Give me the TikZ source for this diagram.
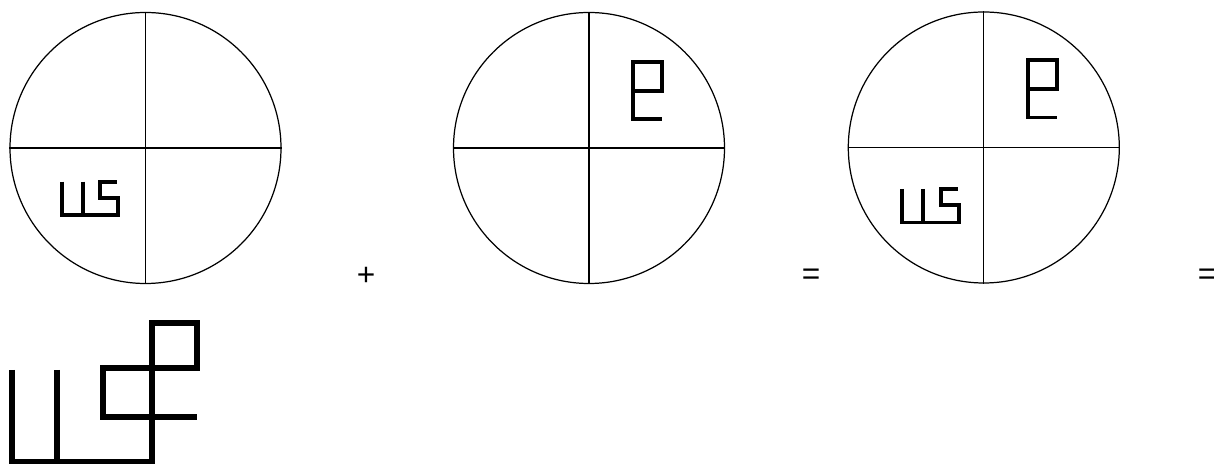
\documentclass[tikz,border=0pt]{standalone}
\usepackage{fontspec}
\setmainfont{Liberation Sans}
\usepackage{tikz}
\usetikzlibrary{positioning}

\tikzset{
  glyphus/.pic={
    \draw (0,0) -- (0,-0.67) -- (1.13,-0.67) -- (1.13,-0.32) -- (0.77,-0.32) -- (0.77,0) -- (1.11,0);
    \draw (0.42,0) -- (0.42,-0.67);
  },
  glypha/.pic={
    \draw (0.57,-1.15) -- (0,-1.15) -- (0,0) -- (0.57,0) -- (0.57,-0.58) -- (0,-0.58);
  }
}

\begin{document}
\begin{tikzpicture}[
    disc/.style={draw, line width=0.7pt, circle, minimum size=5.42cm, inner sep=0pt},
    cross/.style={line width=0.7pt},
    stroke/.style={line width=2.2pt, line join=miter},
    bigstroke/.style={line width=3.4pt, line join=miter},
    op/.style={font=\fontsize{18}{20}\selectfont, inner sep=0pt}]
  \useasboundingbox (0,0) rectangle (24.28,-9.28);

  \node[disc] (c1) at (2.91,-2.96) {};
  \draw[cross] (c1.north) -- (c1.south);
  \draw[cross] (c1.west) -- (c1.east);
  \pic[stroke] at (1.234,-3.634) {glyphus};

  \node[op] (plus) at (7.32,-5.52) {+};

  \node[disc] (c2) at (11.78,-2.96) {};
  \draw[cross] (c2.north) -- (c2.south);
  \draw[cross] (c2.west) -- (c2.east);
  \pic[stroke] at (12.666,-1.234) {glypha};

  \node[op] (eq1) at (16.22,-5.53) {=};

  \node[disc] (c3) at (19.676,-2.95) {};
  \draw[cross] (c3.north) -- (c3.south);
  \draw[cross] (c3.west) -- (c3.east);
  \pic[stroke] at (20.566,-1.2) {glypha};
  \pic[stroke] at (18.046,-3.78) {glyphus};

  \node[op] (eq2) at (24.14,-5.53) {=};

  \draw[bigstroke] (0.234,-7.4) -- (0.234,-9.234) -- (3.034,-9.234) -- (3.034,-6.466) -- (3.934,-6.466)
    -- (3.934,-7.366) -- (2.066,-7.366) -- (2.066,-8.334) -- (3.934,-8.334);
  \draw[bigstroke] (1.146,-7.4) -- (1.146,-9.234);
\end{tikzpicture}
\end{document}
